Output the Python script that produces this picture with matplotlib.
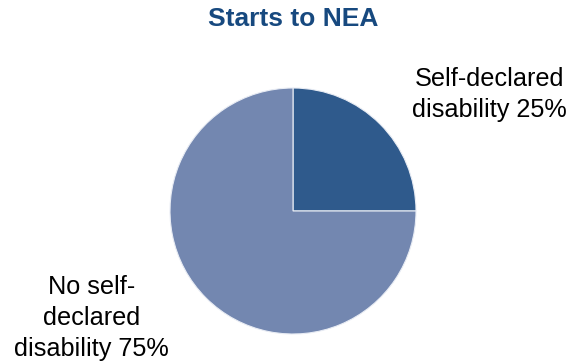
import matplotlib.pyplot as plt

plt.rcParams['font.family'] = ['Liberation Sans', 'DejaVu Sans']

categories = ['Self-declared\ndisability', 'No self-\ndeclared\ndisability']
shares = [25, 75]
colors = ['#2F5A8C', '#7387B0']

fig = plt.figure(figsize=(5.78, 3.63), dpi=100)
fig.patch.set_facecolor('white')

# pie centred at (293, 211) px with a 123 px radius
ax = fig.add_axes([170 / 578, 29 / 363, 246 / 578, 246 / 363])
ax.pie(shares, colors=colors, startangle=90, counterclock=False,
       wedgeprops=dict(edgecolor='#E8ECF4', linewidth=0.8))
ax.set_xlim(-1, 1)
ax.set_ylim(-1, 1)
ax.set_aspect('equal')
ax.axis('off')

label_pos = [(1.595, 0.95), (-1.64, -0.87)]
for name, val, (x, y) in zip(categories, shares, label_pos):
    ax.text(x, y, '{} {}%'.format(name, val), ha='center', va='center',
            fontsize=18.2, color='black', linespacing=1.36, clip_on=False)

fig.text(293 / 578, 1 - 19 / 363, 'Starts to NEA', ha='center', va='center',
         fontsize=19, fontweight='bold', color='#17497F')

fig.savefig('out.png', dpi=100)
